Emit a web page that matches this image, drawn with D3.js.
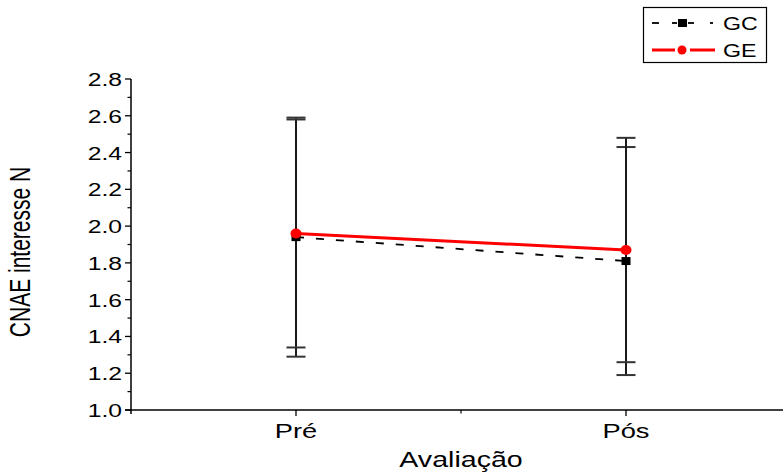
<!DOCTYPE html>
<html>
<head>
<meta charset="utf-8">
<script src="https://cdn.jsdelivr.net/npm/d3@7/dist/d3.min.js"></script>
<style>
  html, body { margin: 0; padding: 0; background: #fff; }
  svg { display: block; }
  text { font-family: "Liberation Sans", Arial, sans-serif; fill: #000; }
</style>
</head>
<body>
<svg id="chart" width="783" height="474"></svg>
<script>
// Group means and standard deviations per assessment moment
const categories = ["Pré", "Pós"];
const gcMean = [1.94, 1.81];
const gcSD   = [0.65, 0.62];
const geMean = [1.96, 1.87];
const geSD   = [0.62, 0.61];
const yTicks = [1.0, 1.2, 1.4, 1.6, 1.8, 2.0, 2.2, 2.4, 2.6, 2.8];
const seriesNames = ["GC", "GE"];

const svg = d3.select("#chart");
const SX = 1.3; // horizontal stretch applied to all text

const x = d3.scaleLinear().domain([0.5, 2.5]).range([131, 791]);
const y = d3.scaleLinear().domain([1.0, 2.8]).range([410, 79]);

const axisG = svg.append("g");

// Y axis: line, major ticks, minor ticks, labels
axisG.append("line")
  .attr("x1", x(0.5)).attr("x2", x(0.5))
  .attr("y1", y(2.8)).attr("y2", y(1.0) + 4)
  .attr("stroke", "#000").attr("stroke-width", 1.5);

const minorY = d3.range(1.1, 2.8, 0.2);
axisG.selectAll(".ymaj").data(yTicks).enter().append("line")
  .attr("x1", x(0.5) - 6).attr("x2", x(0.5))
  .attr("y1", d => y(d)).attr("y2", d => y(d))
  .attr("stroke", "#000").attr("stroke-width", 1.3);
axisG.selectAll(".ymin").data(minorY).enter().append("line")
  .attr("x1", x(0.5) - 3.5).attr("x2", x(0.5))
  .attr("y1", d => y(d)).attr("y2", d => y(d))
  .attr("stroke", "#000").attr("stroke-width", 1.2);

axisG.selectAll(".ylab").data(yTicks).enter().append("text")
  .attr("transform", d => `translate(${x(0.5) - 9},${y(d) + 7}) scale(${SX},1)`)
  .attr("text-anchor", "end")
  .attr("font-size", 19)
  .text(d => d.toFixed(1));

// X axis: line, category ticks, mid minor tick, labels
axisG.append("line")
  .attr("x1", x(0.5) - 6).attr("x2", 783)
  .attr("y1", y(1.0)).attr("y2", y(1.0))
  .attr("stroke", "#000").attr("stroke-width", 1.5);

axisG.selectAll(".xmaj").data([1, 2]).enter().append("line")
  .attr("x1", d => x(d)).attr("x2", d => x(d))
  .attr("y1", y(1.0)).attr("y2", y(1.0) + 6)
  .attr("stroke", "#000").attr("stroke-width", 1.3);
axisG.append("line")
  .attr("x1", x(1.5)).attr("x2", x(1.5))
  .attr("y1", y(1.0)).attr("y2", y(1.0) + 3.5)
  .attr("stroke", "#000").attr("stroke-width", 1.2);

axisG.selectAll(".xlab").data(categories).enter().append("text")
  .attr("transform", (d, i) => `translate(${x(i + 1)},${y(1.0) + 28}) scale(${SX},1)`)
  .attr("text-anchor", "middle")
  .attr("font-size", 21)
  .text(d => d);

// Axis titles
svg.append("text")
  .attr("transform", `translate(${x(1.5)},${467}) scale(${SX},1)`)
  .attr("text-anchor", "middle")
  .attr("font-size", 22)
  .text("Avaliação");

svg.append("text")
  .attr("transform", `translate(${30},${252}) scale(1.4,1) rotate(-90)`)
  .attr("text-anchor", "middle")
  .attr("font-size", 21)
  .text("CNAE interesse N");

// Error bars
const CAP = 9.5;
function errorBars(means, sds) {
  const g = svg.append("g");
  means.forEach((m, i) => {
    const cx = x(i + 1), hi = y(m + sds[i]), lo = y(m - sds[i]);
    g.append("line").attr("x1", cx).attr("x2", cx).attr("y1", hi).attr("y2", lo)
      .attr("stroke", "#1a1a1a").attr("stroke-width", 2);
    [hi, lo].forEach(v => g.append("line")
      .attr("x1", cx - CAP).attr("x2", cx + CAP).attr("y1", v).attr("y2", v)
      .attr("stroke", "#333").attr("stroke-width", 2));
  });
}
errorBars(gcMean, gcSD);
errorBars(geMean, geSD);

// Lines
const line = d3.line().x((d, i) => x(i + 1)).y(d => y(d));
svg.append("path").datum(gcMean).attr("d", line)
  .attr("fill", "none").attr("stroke", "#000").attr("stroke-width", 1.8)
  .attr("stroke-dasharray", "8,12");
svg.append("path").datum(geMean).attr("d", line)
  .attr("fill", "none").attr("stroke", "#f00").attr("stroke-width", 3);

// Markers
svg.selectAll(".gcpt").data(gcMean).enter().append("rect")
  .attr("x", (d, i) => x(i + 1) - 4.5).attr("y", d => y(d) - 4)
  .attr("width", 9).attr("height", 8).attr("fill", "#000");
svg.selectAll(".gept").data(geMean).enter().append("ellipse")
  .attr("cx", (d, i) => x(i + 1)).attr("cy", d => y(d))
  .attr("rx", 5.5).attr("ry", 5).attr("fill", "#f00");

// Legend
const lg = svg.append("g");
lg.append("rect").attr("x", 643.5).attr("y", 7.5).attr("width", 123).attr("height", 55)
  .attr("fill", "#fff").attr("stroke", "#000").attr("stroke-width", 1.2);
// GC sample: dashed segments around a square marker
[[652, 659], [672, 677], [688, 694], [710, 713]].forEach(([a, b]) =>
  lg.append("line").attr("x1", a).attr("x2", b).attr("y1", 23).attr("y2", 23)
    .attr("stroke", "#000").attr("stroke-width", 1.8));
lg.append("rect").attr("x", 678).attr("y", 19).attr("width", 9).attr("height", 8).attr("fill", "#000");
// GE sample: solid segments around a round marker
[[652, 675], [690, 715]].forEach(([a, b]) =>
  lg.append("line").attr("x1", a).attr("x2", b).attr("y1", 50).attr("y2", 50)
    .attr("stroke", "#f00").attr("stroke-width", 3));
lg.append("ellipse").attr("cx", 682).attr("cy", 50).attr("rx", 4.5).attr("ry", 4.5).attr("fill", "#f00");
lg.selectAll(".lt").data(seriesNames).enter().append("text")
  .attr("transform", (d, i) => `translate(723,${i === 0 ? 30 : 57}) scale(1.22,1)`)
  .attr("font-size", 19)
  .text(d => d);
</script>
</body>
</html>
